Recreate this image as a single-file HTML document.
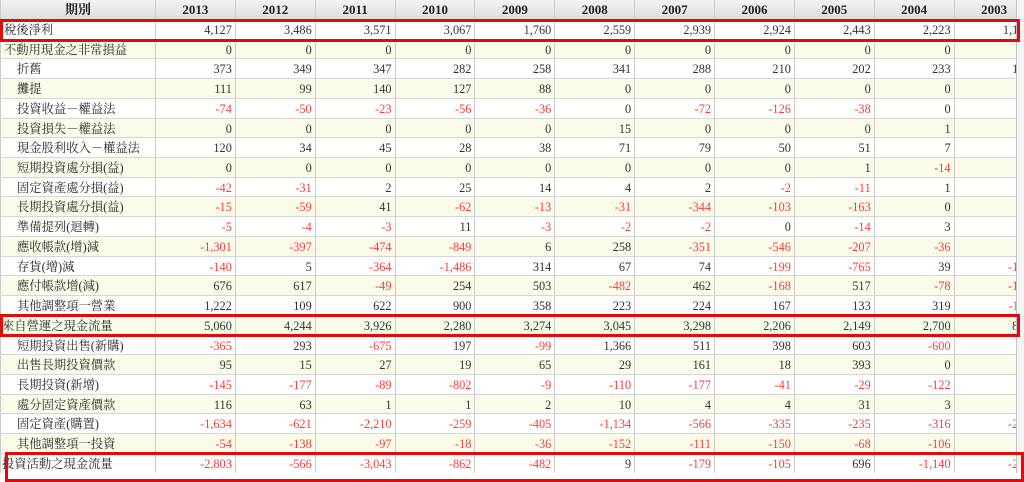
<!DOCTYPE html>
<html>
<head>
<meta charset="utf-8">
<style>
html,body{margin:0;padding:0;background:#fff;}
body{width:1024px;height:473px;overflow:hidden;position:relative;}
#wrap{position:absolute;left:0;top:0;width:1016px;height:473px;overflow:hidden;}
.r{display:flex;height:19.73px;line-height:17.73px;box-sizing:border-box;border-bottom:1px solid #d6d6d6;white-space:nowrap;}
.r.b{background:#fbfbe9;}
.r>div{flex:none;box-sizing:border-box;border-right:1px solid #cbcbcb;overflow:hidden;padding-top:2px;}
.l{width:156px;font-family:"Liberation Serif","Noto Serif CJK SC",serif;font-size:12.3px;color:#2a2a2a;padding-left:16px;border-left:1px solid #cbcbcb;}
.l.n{padding-left:3px;}
.l.z{padding-left:1px;}
.c{width:79.86px;text-align:right;padding-right:3px;font-family:"Liberation Serif","Noto Serif CJK SC",serif;font-size:12.3px;color:#333;}
.c.last{width:80px;}
.c i{font-style:normal;color:#ff3b3b;}
.h{height:20px;line-height:20px;background:linear-gradient(#f3f3f3,#dedede);border-bottom:1px solid #bdbdbd;}
.h>div{text-align:center;font-weight:bold;font-family:"Liberation Serif","Noto Serif CJK SC",serif;font-size:13px;color:#222;padding:0 !important;}
.box{position:absolute;border:3px solid #e20a0a;box-sizing:border-box;}
#side{position:absolute;left:1016px;top:0;width:8px;height:473px;background:#f4f4f4;border-left:1px solid #c4c4c4;box-sizing:border-box;}
</style>
</head>
<body>
<div id="wrap">
<div class="r h"><div class="l">期別</div><div class="c">2013</div><div class="c">2012</div><div class="c">2011</div><div class="c">2010</div><div class="c">2009</div><div class="c">2008</div><div class="c">2007</div><div class="c">2006</div><div class="c">2005</div><div class="c">2004</div><div class="c last">2003</div></div>

<div class="r"><div class="l n">稅後淨利</div><div class="c">4,127</div><div class="c">3,486</div><div class="c">3,571</div><div class="c">3,067</div><div class="c">1,760</div><div class="c">2,559</div><div class="c">2,939</div><div class="c">2,924</div><div class="c">2,443</div><div class="c">2,223</div><div class="c last">1,196</div></div>

<div class="r b"><div class="l n">不動用現金之非常損益</div><div class="c">0</div><div class="c">0</div><div class="c">0</div><div class="c">0</div><div class="c">0</div><div class="c">0</div><div class="c">0</div><div class="c">0</div><div class="c">0</div><div class="c">0</div><div class="c last">0</div></div>

<div class="r"><div class="l">折舊</div><div class="c">373</div><div class="c">349</div><div class="c">347</div><div class="c">282</div><div class="c">258</div><div class="c">341</div><div class="c">288</div><div class="c">210</div><div class="c">202</div><div class="c">233</div><div class="c last">185</div></div>

<div class="r b"><div class="l">攤提</div><div class="c">111</div><div class="c">99</div><div class="c">140</div><div class="c">127</div><div class="c">88</div><div class="c">0</div><div class="c">0</div><div class="c">0</div><div class="c">0</div><div class="c">0</div><div class="c last">0</div></div>

<div class="r"><div class="l">投資收益－權益法</div><div class="c"><i>-74</i></div><div class="c"><i>-50</i></div><div class="c"><i>-23</i></div><div class="c"><i>-56</i></div><div class="c"><i>-36</i></div><div class="c">0</div><div class="c"><i>-72</i></div><div class="c"><i>-126</i></div><div class="c"><i>-38</i></div><div class="c">0</div><div class="c last">0</div></div>

<div class="r b"><div class="l">投資損失－權益法</div><div class="c">0</div><div class="c">0</div><div class="c">0</div><div class="c">0</div><div class="c">0</div><div class="c">15</div><div class="c">0</div><div class="c">0</div><div class="c">0</div><div class="c">1</div><div class="c last">0</div></div>

<div class="r"><div class="l">現金股利收入－權益法</div><div class="c">120</div><div class="c">34</div><div class="c">45</div><div class="c">28</div><div class="c">38</div><div class="c">71</div><div class="c">79</div><div class="c">50</div><div class="c">51</div><div class="c">7</div><div class="c last">3</div></div>

<div class="r b"><div class="l">短期投資處分損(益)</div><div class="c">0</div><div class="c">0</div><div class="c">0</div><div class="c">0</div><div class="c">0</div><div class="c">0</div><div class="c">0</div><div class="c">0</div><div class="c">1</div><div class="c"><i>-14</i></div><div class="c last">0</div></div>

<div class="r"><div class="l">固定資產處分損(益)</div><div class="c"><i>-42</i></div><div class="c"><i>-31</i></div><div class="c">2</div><div class="c">25</div><div class="c">14</div><div class="c">4</div><div class="c">2</div><div class="c"><i>-2</i></div><div class="c"><i>-11</i></div><div class="c">1</div><div class="c last">2</div></div>

<div class="r b"><div class="l">長期投資處分損(益)</div><div class="c"><i>-15</i></div><div class="c"><i>-59</i></div><div class="c">41</div><div class="c"><i>-62</i></div><div class="c"><i>-13</i></div><div class="c"><i>-31</i></div><div class="c"><i>-344</i></div><div class="c"><i>-103</i></div><div class="c"><i>-163</i></div><div class="c">0</div><div class="c last">0</div></div>

<div class="r"><div class="l">準備提列(迴轉)</div><div class="c"><i>-5</i></div><div class="c"><i>-4</i></div><div class="c"><i>-3</i></div><div class="c">11</div><div class="c"><i>-3</i></div><div class="c"><i>-2</i></div><div class="c"><i>-2</i></div><div class="c">0</div><div class="c"><i>-14</i></div><div class="c">3</div><div class="c last">0</div></div>

<div class="r b"><div class="l">應收帳款(增)減</div><div class="c"><i>-1,301</i></div><div class="c"><i>-397</i></div><div class="c"><i>-474</i></div><div class="c"><i>-849</i></div><div class="c">6</div><div class="c">258</div><div class="c"><i>-351</i></div><div class="c"><i>-546</i></div><div class="c"><i>-207</i></div><div class="c"><i>-36</i></div><div class="c last">12</div></div>

<div class="r"><div class="l">存貨(增)減</div><div class="c"><i>-140</i></div><div class="c">5</div><div class="c"><i>-364</i></div><div class="c"><i>-1,486</i></div><div class="c">314</div><div class="c">67</div><div class="c">74</div><div class="c"><i>-199</i></div><div class="c"><i>-765</i></div><div class="c">39</div><div class="c last"><i>-123</i></div></div>

<div class="r b"><div class="l">應付帳款增(減)</div><div class="c">676</div><div class="c">617</div><div class="c"><i>-49</i></div><div class="c">254</div><div class="c">503</div><div class="c"><i>-482</i></div><div class="c">462</div><div class="c"><i>-168</i></div><div class="c">517</div><div class="c"><i>-78</i></div><div class="c last"><i>-145</i></div></div>

<div class="r"><div class="l">其他調整項一營業</div><div class="c">1,222</div><div class="c">109</div><div class="c">622</div><div class="c">900</div><div class="c">358</div><div class="c">223</div><div class="c">224</div><div class="c">167</div><div class="c">133</div><div class="c">319</div><div class="c last"><i>-110</i></div></div>

<div class="r b"><div class="l z">來自營運之現金流量</div><div class="c">5,060</div><div class="c">4,244</div><div class="c">3,926</div><div class="c">2,280</div><div class="c">3,274</div><div class="c">3,045</div><div class="c">3,298</div><div class="c">2,206</div><div class="c">2,149</div><div class="c">2,700</div><div class="c last">862</div></div>

<div class="r"><div class="l">短期投資出售(新購)</div><div class="c"><i>-365</i></div><div class="c">293</div><div class="c"><i>-675</i></div><div class="c">197</div><div class="c"><i>-99</i></div><div class="c">1,366</div><div class="c">511</div><div class="c">398</div><div class="c">603</div><div class="c"><i>-600</i></div><div class="c last">0</div></div>

<div class="r b"><div class="l">出售長期投資價款</div><div class="c">95</div><div class="c">15</div><div class="c">27</div><div class="c">19</div><div class="c">65</div><div class="c">29</div><div class="c">161</div><div class="c">18</div><div class="c">393</div><div class="c">0</div><div class="c last">0</div></div>

<div class="r"><div class="l">長期投資(新增)</div><div class="c"><i>-145</i></div><div class="c"><i>-177</i></div><div class="c"><i>-89</i></div><div class="c"><i>-802</i></div><div class="c"><i>-9</i></div><div class="c"><i>-110</i></div><div class="c"><i>-177</i></div><div class="c"><i>-41</i></div><div class="c"><i>-29</i></div><div class="c"><i>-122</i></div><div class="c last">0</div></div>

<div class="r b"><div class="l">處分固定資產價款</div><div class="c">116</div><div class="c">63</div><div class="c">1</div><div class="c">1</div><div class="c">2</div><div class="c">10</div><div class="c">4</div><div class="c">4</div><div class="c">31</div><div class="c">3</div><div class="c last">5</div></div>

<div class="r"><div class="l">固定資產(購置)</div><div class="c"><i>-1,634</i></div><div class="c"><i>-621</i></div><div class="c"><i>-2,210</i></div><div class="c"><i>-259</i></div><div class="c"><i>-405</i></div><div class="c"><i>-1,134</i></div><div class="c"><i>-566</i></div><div class="c"><i>-335</i></div><div class="c"><i>-235</i></div><div class="c"><i>-316</i></div><div class="c last"><i>-251</i></div></div>

<div class="r b"><div class="l">其他調整項一投資</div><div class="c"><i>-54</i></div><div class="c"><i>-138</i></div><div class="c"><i>-97</i></div><div class="c"><i>-18</i></div><div class="c"><i>-36</i></div><div class="c"><i>-152</i></div><div class="c"><i>-111</i></div><div class="c"><i>-150</i></div><div class="c"><i>-68</i></div><div class="c"><i>-106</i></div><div class="c last">8</div></div>

<div class="r"><div class="l z">投資活動之現金流量</div><div class="c"><i>-2,803</i></div><div class="c"><i>-566</i></div><div class="c"><i>-3,043</i></div><div class="c"><i>-862</i></div><div class="c"><i>-482</i></div><div class="c">9</div><div class="c"><i>-179</i></div><div class="c"><i>-105</i></div><div class="c">696</div><div class="c"><i>-1,140</i></div><div class="c last"><i>-238</i></div></div>
</div>
<div id="side"></div>
<div class="box" style="left:0;top:19px;width:1020px;height:23px;"></div>
<div class="box" style="left:0;top:314px;width:1020px;height:23px;"></div>
<div class="box" style="left:5px;top:452px;width:1019px;height:30px;"></div>
</body>
</html>
